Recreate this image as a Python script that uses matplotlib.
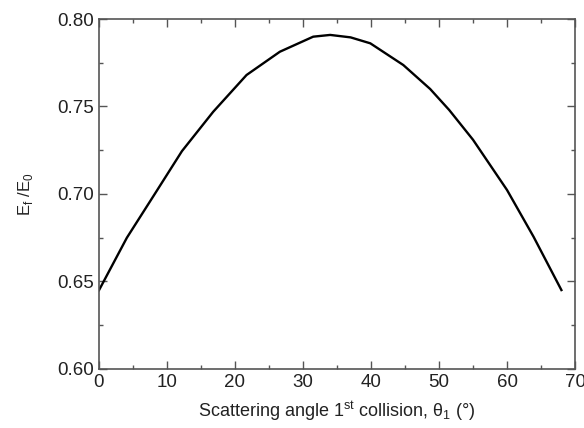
import matplotlib.pyplot as plt
from matplotlib.ticker import MultipleLocator

plt.rcParams['font.family'] = ['Liberation Sans', 'DejaVu Sans']
plt.rcParams['mathtext.fontset'] = 'custom'
plt.rcParams['mathtext.rm'] = 'Liberation Sans'

# values
theta1 = [0, 4.1, 8.2, 12.2, 16.8, 21.7, 26.6, 31.5, 34.0, 37.0, 39.9,
          44.75, 48.7, 51.5, 55.0, 60.0, 63.9, 68.0]
energy_ratio = [0.645, 0.675, 0.700, 0.7245, 0.747, 0.768, 0.7813, 0.7899, 0.7909,
                0.7895, 0.7861, 0.7737, 0.760, 0.748, 0.731, 0.7023, 0.6756, 0.6451]

fig = plt.figure(figsize=(5.84, 4.28), dpi=100)
ax = fig.add_axes([0.1695, 0.1379, 0.8151, 0.8177])

ax.plot(theta1, energy_ratio, color='black', linewidth=1.7)

ax.set_xlim(0, 70)
ax.set_ylim(0.60, 0.80)
ax.xaxis.set_major_locator(MultipleLocator(10))
ax.xaxis.set_minor_locator(MultipleLocator(5))
ax.yaxis.set_major_locator(MultipleLocator(0.05))
ax.yaxis.set_minor_locator(MultipleLocator(0.025))
ax.yaxis.set_major_formatter(plt.FormatStrFormatter('%.2f'))

ax.tick_params(which='both', direction='in', top=True, right=True,
               color='#555555', labelcolor='#222222', labelsize=13.5)
ax.tick_params(which='major', length=6, width=1)
ax.tick_params(which='minor', length=3, width=1)
for s in ax.spines.values():
    s.set_color('#555555')
    s.set_linewidth(1.2)

ax.set_xlabel(r'Scattering angle 1$^{\rm st}$ collision, θ$_{\rm 1}$ (°)',
              fontsize=13, color='#222222', labelpad=6)
ax.set_ylabel(r'E$_{\rm f}$ /E$_{\rm 0}$', fontsize=12, color='#222222', labelpad=16)

fig.savefig('out.png')
